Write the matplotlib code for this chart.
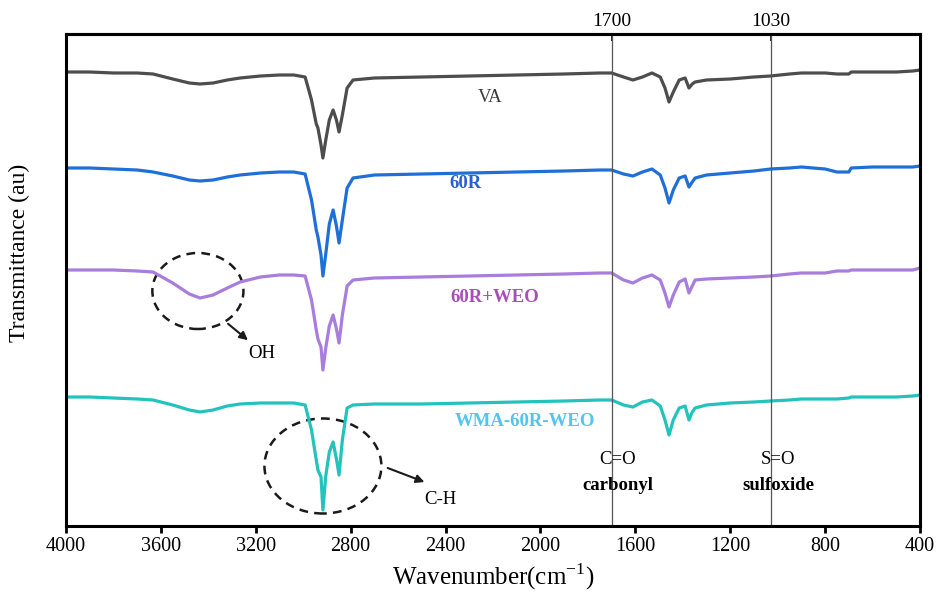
import matplotlib
matplotlib.use("Agg")
import matplotlib.pyplot as plt
from matplotlib.patches import Ellipse

plt.rcParams['font.family'] = ['Liberation Serif', 'DejaVu Serif']
plt.rcParams['mathtext.fontset'] = 'custom'
plt.rcParams['mathtext.rm'] = 'Liberation Serif'

# FTIR spectra, stacked with vertical offsets (arbitrary transmittance units)
wavenumber = [4000, 3900, 3800, 3700, 3633, 3550, 3480, 3435, 3380, 3320,
              3266, 3180, 3100, 3040, 2992, 2965, 2945, 2938, 2925, 2917,
              2905, 2890, 2874, 2860, 2849, 2835, 2815, 2790, 2700, 2500,
              2300, 2100, 1900, 1750, 1700, 1650, 1610, 1570, 1530, 1495,
              1475, 1458, 1440, 1415, 1390, 1374, 1360, 1348, 1300, 1200,
              1100, 1030, 950, 900, 800, 750, 700, 690, 600, 500,
              430, 400]

va = [454, 454, 453, 453, 452, 447, 443, 442, 443, 446,
      448, 450, 451, 451, 449, 426, 402, 398, 381, 368,
      386, 406, 416, 406, 394, 411, 438, 446, 448, 449,
      450, 451, 452, 453, 453, 449, 446, 449, 453, 449,
      438, 424, 434, 446, 448, 438, 442, 444, 446, 447,
      449, 450, 452, 453, 453, 452, 452, 454, 454, 454,
      455, 456]

r60 = [358, 358, 357, 356, 354, 350, 346, 345, 346, 349,
       351, 353, 354, 354, 352, 326, 296, 289, 271, 250,
       272, 302, 316, 300, 283, 306, 338, 348, 351, 352,
       353, 354, 355, 356, 356, 352, 350, 354, 357, 351,
       338, 323, 336, 348, 350, 339, 344, 348, 351, 353,
       355, 357, 358, 359, 357, 354, 354, 358, 359, 359,
       359, 360]

r60_weo = [256, 256, 256, 255, 254, 243, 232, 228, 231, 238,
           244, 249, 251, 251, 250, 226, 196, 187, 179, 156,
           178, 200, 211, 197, 183, 211, 240, 246, 248, 249,
           250, 251, 252, 253, 253, 246, 243, 248, 251, 246,
           233, 219, 231, 244, 247, 233, 240, 246, 247, 248,
           249, 250, 252, 253, 253, 255, 255, 256, 256, 256,
           256, 258]

wma_r60_weo = [129, 129, 128, 127, 126, 121, 116, 114, 116, 120,
               122, 123, 123, 123, 121, 96, 66, 56, 49, 16,
               50, 74, 84, 67, 51, 86, 118, 121, 122, 122,
               123, 124, 125, 126, 126, 121, 119, 124, 126, 120,
               106, 91, 106, 118, 120, 106, 114, 118, 121, 123,
               124, 125, 126, 127, 127, 127, 128, 129, 129, 129,
               130, 131]

names = ['VA', '60R', '60R+WEO', 'WMA-60R-WEO']
line_colors = ['#4d4d4d', '#1f6fd8', '#a87ddc', '#22c2bd']
label_colors = ['#3a3a3a', '#2a5fd0', '#a650b5', '#52c4f0']
label_pos = [(2213, 429), (2318, 343), (2192, 229), (2065, 104)]

# band markers
markers = [1700, 1030]
xticks = [4000, 3600, 3200, 2800, 2400, 2000, 1600, 1200, 800, 400]

fig = plt.figure(figsize=(9.44, 5.97), dpi=100)
ax = fig.add_axes([66 / 944, 71 / 597, 854 / 944, 492 / 597])

for y, c in zip([va, r60, r60_weo, wma_r60_weo], line_colors):
    ax.plot(wavenumber, y, color=c, lw=2.3, solid_joinstyle='round')

for name, c, (x, y) in zip(names, label_colors, label_pos):
    ax.text(x, y, name, color=c, fontsize=13.5, ha='center', va='center',
            fontweight='bold' if name != 'VA' else 'normal')

for m in markers:
    ax.axvline(m, color='#555555', lw=0.9)

ax.set_xlim(4000, 400)
ax.set_ylim(0, 492)
ax.set_xticks(xticks)
ax.set_yticks([])
ax.tick_params(axis='x', direction='out', length=5, width=2, labelsize=14.5, pad=3)
for s in ax.spines.values():
    s.set_linewidth(2.2)

top = ax.secondary_xaxis('top')
top.set_xticks(markers)
top.tick_params(direction='in', length=5, width=1.2, labelsize=14, pad=3)
top.spines['top'].set_linewidth(2.2)

ax.set_xlabel('Wavenumber(cm$^{-1}$)', fontsize=18, labelpad=4)
ax.set_ylabel('Transmittance (au)', fontsize=17)
ax.yaxis.set_label_coords(-0.042, 0.555)

# dashed circles around the O-H and C-H bands
ax.add_patch(Ellipse((3444, 235), 384, 76, fill=False, ls=(0, (3.5, 2.5)),
                     lw=1.8, color='#1a1a1a'))
ax.add_patch(Ellipse((2917, 60), 493, 95, fill=False, ls=(0, (3.5, 2.5)),
                     lw=1.8, color='#1a1a1a'))
arrow = dict(arrowstyle='-|>', color='#1a1a1a', lw=1.5, mutation_scale=12)
ax.annotate('', xy=(3224, 184), xytext=(3326, 204), arrowprops=arrow)
ax.annotate('', xy=(2478, 43), xytext=(2655, 59), arrowprops=arrow)
ax.text(3174, 172, 'OH', fontsize=13.5, ha='center', va='center')
ax.text(2423, 26, 'C-H', fontsize=13.5, ha='center', va='center')

ax.text(1673, 66, 'C=O', fontsize=13.5, ha='center', va='center')
ax.text(1673, 40, 'carbonyl', fontsize=13.5, ha='center', va='center', fontweight='bold')
ax.text(999, 66, 'S=O', fontsize=13.5, ha='center', va='center')
ax.text(999, 40, 'sulfoxide', fontsize=13.5, ha='center', va='center', fontweight='bold')

fig.savefig('out.png', dpi=100)
